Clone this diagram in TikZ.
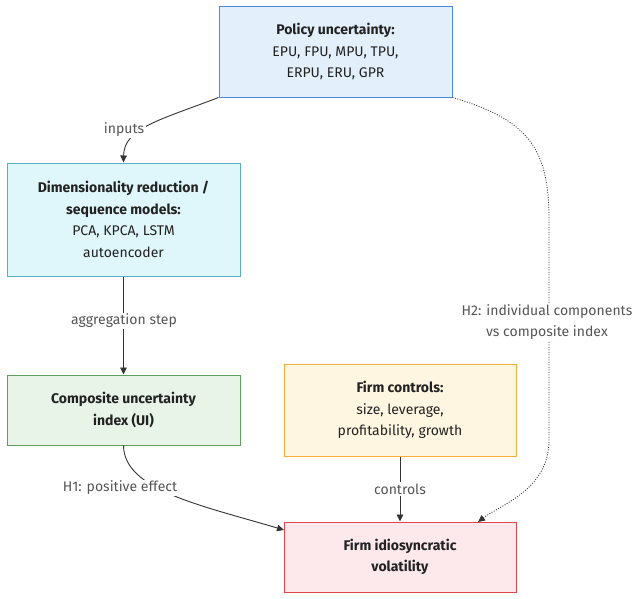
\documentclass[tikz,border=0pt]{standalone}
\usepackage{fontspec}
\setmainfont{Fira Sans}
\usetikzlibrary{arrows.meta}
\definecolor{txt}{HTML}{222222}
\definecolor{lbl}{HTML}{555555}
\definecolor{edge}{HTML}{333333}
\definecolor{polF}{HTML}{E3F0FC}\definecolor{polD}{HTML}{4A8AD8}
\definecolor{dimF}{HTML}{DFF6FA}\definecolor{dimD}{HTML}{5AAFBD}
\definecolor{comF}{HTML}{E7F4E7}\definecolor{comD}{HTML}{5E9E5E}
\definecolor{firF}{HTML}{FFF6E1}\definecolor{firD}{HTML}{F7AD3C}
\definecolor{volF}{HTML}{FDE9EC}\definecolor{volD}{HTML}{D9474D}
\begin{document}
\begin{tikzpicture}[x=1pt,y=-1pt,
  box/.style={draw, line width=1pt, rectangle, align=center, text=txt,
    font=\fontsize{14}{21.5}\selectfont, inner sep=0pt},
  elabel/.style={fill=white, text=lbl, font=\fontsize{14}{21.5}\selectfont, align=center, inner sep=1.5pt},
  conn/.style={draw=edge, line width=0.9pt, -{Triangle[length=7pt,width=6.5pt]}},
  dotconn/.style={draw=edge, line width=0.8pt, dash pattern=on 1pt off 1.5pt, -{Triangle[length=7pt,width=6.5pt]}}]
\useasboundingbox (0,0) rectangle (638,598);

\node[box, fill=polF, draw=polD, minimum width=233pt, minimum height=91pt] (pol) at (335.5,51.5)
  {\textbf{Policy uncertainty:}\\EPU, FPU, MPU, TPU,\\ERPU, ERU, GPR};
\node[box, fill=dimF, draw=dimD, minimum width=233pt, minimum height=113pt] (dim) at (123.5,219.5)
  {\textbf{Dimensionality reduction /}\\\textbf{sequence models:}\\PCA, KPCA, LSTM\\autoencoder};
\node[box, fill=comF, draw=comD, minimum width=233pt, minimum height=70pt] (com) at (123.5,410)
  {\textbf{Composite uncertainty}\\\textbf{index (UI)}};
\node[box, fill=firF, draw=firD, minimum width=232pt, minimum height=92pt] (fir) at (400,410)
  {\textbf{Firm controls:}\\size, leverage,\\profitability, growth};
\node[box, fill=volF, draw=volD, minimum width=232pt, minimum height=70pt] (vol) at (400,557)
  {\textbf{Firm idiosyncratic}\\\textbf{volatility}};

\coordinate (h1end) at (284,530);
\coordinate (h2end) at (478,522);

% inputs
\draw[conn] (pol.south west) .. controls (160,120) and (124,128) .. (dim.north);
\node[elabel] (linputs) at (124,130) {inputs};
% aggregation
\draw[conn] (dim.south) -- (com.north);
\node[elabel] (lagg) at (124,321) {aggregation step};
% H1
\draw[conn] (com.south) .. controls (124,490) and (200,505) .. (h1end);
\node[elabel] (lh1) at (120,488) {H1: positive effect};
% controls
\draw[conn] (fir.south) -- (vol.north);
\node[elabel] (lctl) at (400,489) {controls};
% H2
\draw[dotconn] (pol.south east) .. controls (530,120) and (549,150) .. (549,220) -- (549,440) .. controls (549,490) and (500,505) .. (h2end);
\node[elabel] (lh2) at (547,322) {H2: individual components\\vs composite index};
\end{tikzpicture}
\end{document}
